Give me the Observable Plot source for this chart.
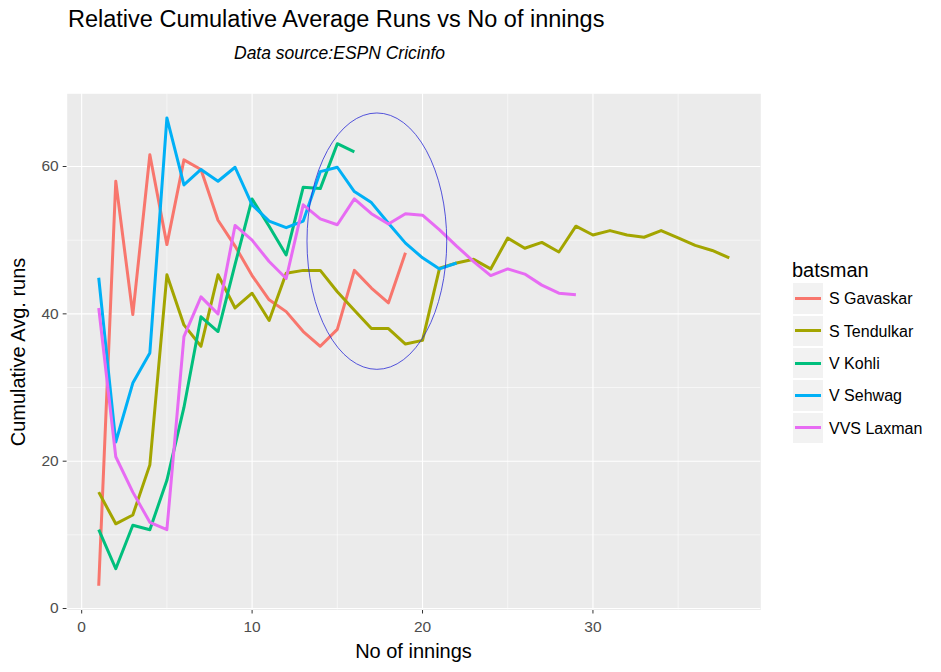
<!DOCTYPE html>
<html>
<head>
<meta charset="utf-8">
<script src="https://cdn.jsdelivr.net/npm/d3@7"></script>
<script src="https://cdn.jsdelivr.net/npm/@observablehq/plot@0.6"></script>
<style>
  body { margin: 0; background: #fff; font-family: "Liberation Sans", Arial, sans-serif; }
  #wrap { position: relative; width: 941px; height: 672px; overflow: hidden; }
  #chart { position: absolute; left: 0; top: 0; }
  .t { position: absolute; white-space: nowrap; color: #000; line-height: 1; }
  .key { position: absolute; left: 792.7px; width: 30.6px; height: 30.6px; background: #f2f2f2; }
  .key i { position: absolute; left: 2.5px; right: 2.5px; top: 13.8px; height: 3px; }
  .lab { position: absolute; left: 829px; font-size: 16px; line-height: 30.6px; height: 30.6px; color: #000; white-space: nowrap; }
</style>
</head>
<body>
<div id="wrap">
  <div id="chart"></div>
  <div class="t" style="left:68px; top:8.4px; font-size:23.5px;">Relative Cumulative Average Runs vs No of innings</div>
  <div class="t" style="left:234px; top:45.2px; font-size:17.5px; font-style:italic;">Data source:ESPN Cricinfo</div>
  <div class="t" style="left:413.5px; top:641px; font-size:20px; transform:translateX(-50%);">No of innings</div>
  <div class="t" style="left:8px; top:352px; font-size:20px; transform-origin:0 0; transform:rotate(-90deg) translate(-50%, 0);">Cumulative Avg. runs</div>
  <div class="t" style="left:792px; top:259.8px; font-size:20px;">batsman</div>
  <div id="legend"></div>
</div>
<script>
// ---- data ----
const batsmen = ["S Gavaskar", "S Tendulkar", "V Kohli", "V Sehwag", "VVS Laxman"];
const colors  = ["#F8766D", "#A3A500", "#00BF7D", "#00B0F6", "#E76BF3"];

const gavaskar  = [3.1, 58.0, 39.9, 61.6, 49.4, 60.9, 59.6, 52.7, 49.2, 45.2, 41.9, 40.3, 37.6, 35.6, 37.9, 45.9, 43.5, 41.5, 48.3];
const tendulkar = [15.8, 11.5, 12.7, 19.5, 45.3, 38.5, 35.6, 45.3, 40.8, 42.8, 39.1, 45.5, 45.9, 45.9, 43.0, 40.5, 38.0, 38.0, 35.9, 36.4,
                   46.2, 46.9, 47.4, 46.1, 50.3, 48.9, 49.7, 48.4, 51.9, 50.7, 51.3, 50.7, 50.4, 51.3, 50.3, 49.3, 48.6, 47.6];
const kohli     = [10.7, 5.4, 11.3, 10.7, 17.4, 27.3, 39.6, 37.6, 46.7, 55.6, 51.9, 48.0, 57.2, 57.0, 63.1, 62.0];
const sehwag    = [44.9, 22.6, 30.6, 34.7, 66.6, 57.5, 59.6, 58.0, 59.9, 54.8, 52.6, 51.7, 52.6, 59.3, 59.9, 56.6, 55.1, 52.3, 49.6, 47.6, 46.1, 46.9];
const laxman    = [40.8, 20.6, 15.8, 11.7, 10.7, 36.9, 42.3, 40.0, 52.0, 50.0, 47.1, 44.8, 54.8, 52.9, 52.1, 55.6, 53.6, 52.2, 53.6, 53.4,
                   51.4, 49.2, 47.1, 45.2, 46.1, 45.4, 43.9, 42.8, 42.6];

const xTicks = [0, 10, 20, 30];
const xMinor = [5, 15, 25, 35];
const yTicks = [0, 20, 40, 60];
const yMinor = [10, 30, 50];

// highlight ellipse (data units): center and semi-axes
const ellipseCenter = [17.35, 49.8];
const ellipseRadii  = [4.1, 17.4];

// ---- build long table ----
const series = [gavaskar, tendulkar, kohli, sehwag, laxman];
const rows = [];
series.forEach((vals, i) => vals.forEach((v, j) => rows.push({batsman: batsmen[i], inning: j + 1, avg: v})));

const ellipseMark = (index, scales) => {
  const cx = scales.x(ellipseCenter[0]), cy = scales.y(ellipseCenter[1]);
  const rx = Math.abs(scales.x(ellipseCenter[0] + ellipseRadii[0]) - cx);
  const ry = Math.abs(scales.y(ellipseCenter[1] + ellipseRadii[1]) - cy);
  const e = document.createElementNS("http://www.w3.org/2000/svg", "ellipse");
  e.setAttribute("cx", cx); e.setAttribute("cy", cy);
  e.setAttribute("rx", rx); e.setAttribute("ry", ry);
  e.setAttribute("fill", "none"); e.setAttribute("stroke", "#2b2bd6"); e.setAttribute("stroke-width", 0.8);
  return e;
};

const chart = Plot.plot({
  width: 941,
  height: 672,
  marginLeft: 66.7,
  marginRight: 180.7,
  marginTop: 93.3,
  marginBottom: 62.5,
  style: {fontFamily: "'Liberation Sans', Arial, sans-serif", fontSize: "15.5px", color: "#4d4d4d", background: "transparent", overflow: "visible"},
  x: {domain: [-0.85, 39.85], ticks: xTicks, tickSize: 4, tickPadding: 6.5, label: null},
  y: {domain: [-0.2, 69.87], ticks: yTicks, tickSize: 4, tickPadding: 4.5, label: null},
  color: {domain: batsmen, range: colors},
  marks: [
    Plot.frame({fill: "#ebebeb", stroke: "none"}),
    Plot.ruleX(xMinor, {stroke: "#ffffff", strokeWidth: 0.55}),
    Plot.ruleY(yMinor, {stroke: "#ffffff", strokeWidth: 0.55}),
    Plot.ruleX(xTicks, {stroke: "#ffffff", strokeWidth: 1.1}),
    Plot.ruleY(yTicks, {stroke: "#ffffff", strokeWidth: 1.1}),
    Plot.line(rows, {x: "inning", y: "avg", z: "batsman", stroke: "batsman", strokeWidth: 3, strokeLinejoin: "round", strokeLinecap: "butt"}),
    ellipseMark
  ]
});
chart.querySelectorAll('g[aria-label$="-axis tick"]').forEach(g => g.setAttribute("stroke", "#333333"));
document.getElementById("chart").appendChild(chart);

// ---- legend ----
const legend = document.getElementById("legend");
batsmen.forEach((name, i) => {
  const top = 283.3 + i * 32.3;
  const k = document.createElement("div");
  k.className = "key"; k.style.top = top + "px";
  const bar = document.createElement("i"); bar.style.background = colors[i];
  k.appendChild(bar);
  const l = document.createElement("div");
  l.className = "lab"; l.style.top = (top + 1) + "px"; l.textContent = name;
  legend.appendChild(k); legend.appendChild(l);
});
</script>
</body>
</html>
